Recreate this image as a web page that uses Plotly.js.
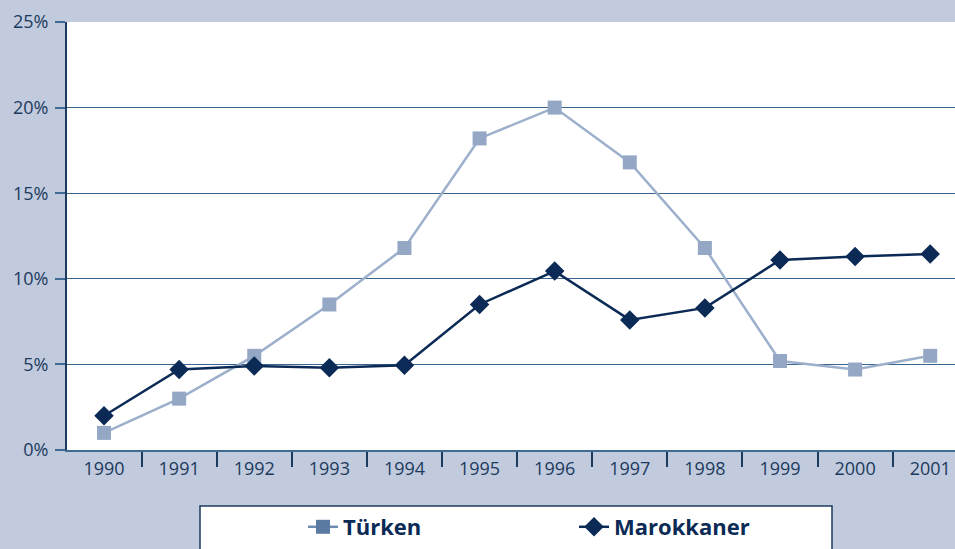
<!DOCTYPE html>
<html>
<head>
<meta charset="utf-8">
<script src="https://cdn.plot.ly/plotly-3.0.1.min.js"></script>
<style>html,body{margin:0;padding:0;background:#c1cbdd;}#chart{width:955px;height:549px;}</style>
</head>
<body>
<div id="chart"></div>
<script>
var years = ['1990','1991','1992','1993','1994','1995','1996','1997','1998','1999','2000','2001'];
var tuerken = [1.0, 3.0, 5.5, 8.5, 11.8, 18.2, 20.0, 16.8, 11.8, 5.2, 4.7, 5.5];
var marokkaner = [2.0, 4.7, 4.9, 4.8, 4.95, 8.5, 10.45, 7.6, 8.3, 11.1, 11.3, 11.45];
var yTicks = [0, 5, 10, 15, 20, 25];
var yTickText = ['0%', '5%', '10%', '15%', '20%', '25%'];

var W = 955, H = 549, mL = 67, mR = 0, mT = 22, mB = 99;
var pw = W - mL - mR, ph = H - mT - mB;
function px(x) { return (x - mL) / pw; }
function py(y) { return (H - mB - y) / ph; }

var traces = [
  {x: years, y: tuerken, name: 'Türken', mode: 'lines+markers', showlegend: false,
   line: {color: '#9cafcb', width: 2.5}, marker: {symbol: 'square', size: 14, color: '#94a8c6'}},
  {x: years, y: marokkaner, name: 'Marokkaner', mode: 'lines+markers', showlegend: false,
   line: {color: '#0b2a55', width: 2.5}, marker: {symbol: 'diamond', size: 15, color: '#0b2a55'}},
  {x: [years[0]], y: [null], name: 'Türken', mode: 'lines+markers', showlegend: true,
   line: {color: '#6f8db3', width: 2.5}, marker: {symbol: 'square', size: 14, color: '#5a7aa2'}},
  {x: [years[0]], y: [null], name: 'Marokkaner', mode: 'lines+markers', showlegend: true,
   line: {color: '#0b2a55', width: 2.5}, marker: {symbol: 'diamond', size: 15, color: '#0b2a55'}}
];

var layout = {
  width: W, height: H,
  margin: {l: mL, r: mR, t: mT, b: mB, pad: 0},
  paper_bgcolor: '#c1cbdd',
  plot_bgcolor: '#ffffff',
  font: {family: 'Open Sans, sans-serif', size: 18, color: '#1c3a5e'},
  xaxis: {
    type: 'category', range: [-0.493, 11.33], tickson: 'boundaries',
    ticks: 'outside', ticklen: 15, tickwidth: 2, tickcolor: '#1c3a5e',
    showline: true, linecolor: '#3f6a94', linewidth: 2,
    showgrid: false, zeroline: false, ticklabelstandoff: 1,
    tickfont: {size: 18, color: '#1c3a5e'}, fixedrange: true
  },
  yaxis: {
    range: [0, 25], tickvals: yTicks, ticktext: yTickText,
    ticks: 'outside', ticklen: 10, tickwidth: 2, tickcolor: '#3f6a94',
    showline: true, linecolor: '#1c3a5e', linewidth: 2,
    showgrid: true, gridcolor: '#3a6590', gridwidth: 1, zeroline: false,
    ticklabelstandoff: 3,
    tickfont: {size: 18, color: '#1c3a5e'}, fixedrange: true
  },
  shapes: [
    {type: 'rect', xref: 'paper', yref: 'paper', x0: px(200), x1: px(832), y0: py(506), y1: py(570),
     fillcolor: '#ffffff', line: {color: '#1c3a5e', width: 1.5}, layer: 'below'}
  ],
  legend: {
    orientation: 'h', x: px(303), xanchor: 'left', y: py(506), yanchor: 'top',
    bgcolor: 'rgba(0,0,0,0)', borderwidth: 0,
    entrywidth: 226, entrywidthmode: 'pixels',
    font: {size: 22, color: '#0b2a55', family: 'Open Sans, sans-serif', weight: 'bold'}
  },
  showlegend: true
};

Plotly.newPlot('chart', traces, layout, {displayModeBar: false, staticPlot: true});
</script>
</body>
</html>
